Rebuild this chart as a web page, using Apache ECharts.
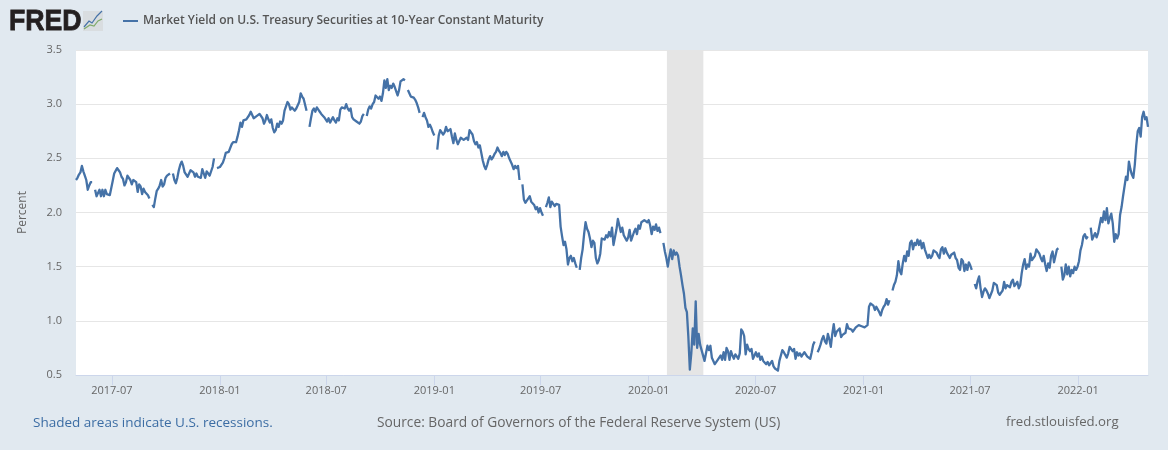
<!DOCTYPE html>
<html><head><meta charset="utf-8">
<style>html,body{margin:0;padding:0;background:#e1e9f0}#c{width:1168px;height:450px}</style>
<script src="https://cdn.jsdelivr.net/npm/echarts@6/dist/echarts.min.js"></script>
</head><body><div id="c"></div>
<script>
const seriesName = 'Market Yield on U.S. Treasury Securities at 10-Year Constant Maturity';
const startDate = '2017-05-01';
const stepDays = 2.5;
const yields = [
2.30,2.32,2.35,2.37,2.43,2.38,2.34,2.30,2.21,2.25,
2.28,2.28,null,2.21,2.15,2.18,2.21,2.15,2.21,2.15,
2.21,2.17,2.18,2.16,2.15,2.29,2.36,2.36,2.41,2.39,
2.37,2.33,2.31,2.25,2.28,2.34,2.33,2.30,2.26,2.30,
2.29,2.28,2.19,2.26,2.24,2.17,2.22,2.19,2.18,2.16,
2.13,null,2.07,2.05,2.13,2.20,2.22,2.25,2.30,2.24,
2.26,2.32,2.34,2.35,2.36,null,2.36,2.30,2.27,2.32,
2.39,2.44,2.47,2.43,2.37,2.36,2.33,2.32,2.39,2.39,
2.37,2.33,2.36,2.33,2.33,2.32,2.40,2.36,2.32,2.38,
2.36,2.34,2.34,2.42,2.50,null,2.41,2.41,2.42,2.43,
2.46,2.50,2.55,2.56,2.56,2.56,2.63,2.65,2.66,2.65,
2.70,2.76,2.83,2.79,2.85,2.84,2.86,2.87,2.90,2.93,
2.90,2.87,2.88,2.89,2.89,2.91,2.90,2.87,2.82,2.85,
2.90,2.86,2.83,2.86,2.78,2.74,2.76,2.82,2.79,2.84,
2.82,2.85,2.94,2.98,3.02,3.00,2.95,2.97,2.96,2.94,
2.96,2.99,3.02,3.10,3.07,3.05,3.06,2.94,null,2.79,
2.87,2.94,2.96,2.93,2.97,2.95,2.93,2.91,2.90,2.88,
2.86,2.84,2.87,2.83,2.82,2.88,2.85,2.83,2.87,2.85,
2.95,2.97,2.98,2.96,3.00,2.96,2.94,2.96,2.88,2.86,
2.87,2.84,2.83,2.82,2.84,2.89,2.91,null,2.89,2.95,
2.98,2.96,3.00,3.02,3.08,3.09,3.05,3.07,3.03,3.10,
3.22,3.15,3.23,3.13,3.17,3.15,3.19,3.16,3.12,3.08,
3.13,3.21,3.20,3.23,3.22,null,3.13,3.10,3.07,3.07,
3.06,3.04,3.01,2.97,2.92,null,2.88,2.92,2.88,2.85,
2.79,2.81,2.78,2.74,2.71,null,2.58,2.71,2.76,2.74,
2.72,2.74,2.79,2.75,2.76,2.77,2.70,2.64,2.73,2.67,
2.63,2.66,2.69,2.70,2.67,2.66,2.69,2.67,2.76,2.74,
2.72,2.66,2.63,2.65,2.60,2.62,2.63,2.48,2.43,2.40,
2.44,2.49,2.52,2.49,2.51,2.54,2.56,2.60,2.57,2.55,
2.52,2.56,2.53,2.56,2.54,2.50,2.47,2.44,2.40,2.43,
2.41,2.43,2.30,null,2.26,2.12,2.09,2.11,2.12,2.15,
2.10,2.09,2.07,2.03,2.05,2.00,2.04,2.00,1.97,null,
2.05,2.09,2.14,2.05,2.10,2.08,2.06,2.08,2.09,2.07,
1.87,1.78,1.70,1.73,1.66,1.52,1.58,1.60,1.55,1.58,
1.53,1.49,null,1.47,1.58,1.66,1.80,1.91,1.85,1.82,
1.76,1.68,1.74,1.72,1.58,1.53,1.56,1.62,1.76,1.76,
1.75,1.79,1.77,1.82,1.78,1.86,1.70,1.77,1.84,1.94,
1.93,1.82,1.86,1.79,1.80,1.74,1.77,1.84,1.74,1.73,
1.82,1.85,1.80,1.88,1.85,1.91,1.92,1.93,1.94,1.91,
1.93,1.88,1.80,1.87,1.84,1.89,1.83,1.86,1.81,null,
1.72,1.64,1.58,1.50,1.59,1.66,1.57,1.65,1.61,1.63,
1.60,1.50,1.42,1.33,1.25,1.12,1.08,0.85,0.55,0.70,
0.93,0.78,1.18,0.75,0.88,0.78,0.73,0.72,0.63,0.70,
0.77,0.73,0.77,0.66,0.63,0.60,0.60,0.64,0.66,0.68,
0.64,0.71,0.64,0.75,0.72,0.64,0.72,0.68,0.65,0.69,
0.70,0.65,0.70,0.92,0.90,0.86,0.69,0.78,0.74,0.72,
0.74,0.65,0.66,0.71,0.67,0.70,0.64,0.67,0.63,0.64,
0.60,0.62,0.59,0.60,0.63,0.58,0.56,0.55,0.54,0.63,
0.68,0.73,0.71,0.71,0.66,0.70,0.76,0.75,0.72,0.74,
0.65,0.71,0.68,0.70,0.67,0.69,0.71,0.70,0.67,0.66,
0.65,0.71,0.78,0.81,null,0.71,0.74,0.78,0.83,0.86,
0.81,0.79,0.88,0.83,0.76,0.88,0.97,0.86,0.90,0.91,
0.93,0.85,0.87,0.88,0.89,0.97,0.93,0.94,0.92,0.90,
0.91,0.94,0.95,0.96,0.96,0.95,0.95,0.94,0.94,0.96,
1.13,1.16,1.16,1.14,1.10,1.13,1.14,1.08,1.05,1.10,
1.13,1.15,1.20,1.15,1.19,null,1.28,1.33,1.36,1.42,
1.55,1.46,1.43,1.53,1.60,1.55,1.64,1.60,1.72,1.74,
1.66,1.72,1.70,1.75,1.70,1.74,1.67,1.72,1.66,1.62,
1.58,1.61,1.58,1.60,1.65,1.66,1.63,1.60,1.58,1.66,
1.68,1.62,1.67,1.63,1.62,1.58,1.61,1.60,1.63,1.58,
1.56,1.49,1.47,1.57,1.55,1.46,1.52,1.47,1.54,1.51,
1.47,null,1.34,1.30,1.37,1.41,1.30,1.22,1.27,1.30,
1.28,1.25,1.21,1.22,1.28,1.35,1.36,1.33,1.26,1.24,
1.26,1.28,1.36,1.30,1.33,1.32,1.31,1.36,1.38,1.32,
1.31,1.36,1.30,1.33,1.44,1.52,1.57,1.48,1.52,1.50,
1.62,1.56,1.55,1.60,1.66,1.67,1.62,1.58,1.55,1.60,
1.52,1.46,1.53,1.49,1.60,1.64,1.54,1.60,1.66,1.67,
null,1.50,1.38,1.42,1.52,1.43,1.50,1.41,1.47,1.44,
1.50,1.47,1.50,1.55,1.65,1.70,1.78,1.80,1.76,1.78,
null,1.86,1.75,1.78,1.81,1.77,1.81,1.80,1.95,1.91,
2.01,1.93,2.04,1.90,1.95,1.99,1.90,1.73,1.80,1.76,
1.80,1.98,2.05,2.15,2.16,2.33,2.30,2.47,2.40,2.35,
2.32,2.44,2.62,2.75,2.78,2.70,2.88,2.93,2.86,2.88,
2.79
];
const tickDates = ['2017-07-01','2018-01-01','2018-07-01','2019-01-01','2019-07-01','2020-01-01','2020-07-01','2021-01-01','2021-07-01','2022-01-01'];
const tickLabels = ['2017-07','2018-01','2018-07','2019-01','2019-07','2020-01','2020-07','2021-01','2021-07','2022-01'];
const recession = ['2020-02-01','2020-04-03'];

const ts = s => Date.parse(s+'T00:00:00Z');
const t0 = ts(startDate);
const points = yields.map((v,i)=>[t0+i*stepDays*864e5, v]);
const tickTs = tickDates.map(ts);
const labelOf = Object.fromEntries(tickTs.map((t,i)=>[t,tickLabels[i]]));
const font = '"Open Sans","Noto Sans",sans-serif';

const chart = echarts.init(document.getElementById('c'),null,{renderer:'canvas'});
chart.setOption({
  backgroundColor:'#e1e9f0',
  animation:false,
  grid:{left:76,right:20,top:50,bottom:75,show:true,backgroundColor:'#fff',borderWidth:0},
  legend:{show:true,left:118,top:10,itemWidth:15,itemHeight:2,icon:'rect',itemGap:6,
    data:[seriesName],
    textStyle:{fontFamily:font,fontSize:12,fontWeight:600,color:'#555'}},
  xAxis:{type:'value',min:t0,max:t0+(yields.length-1)*stepDays*864e5,scale:true,
    axisLine:{show:true,lineStyle:{color:'#ccd6eb',width:1}},
    axisTick:{show:true,length:10,lineStyle:{color:'#ccd6eb'},customValues:tickTs},
    splitLine:{show:false},
    axisLabel:{customValues:tickTs,formatter:v=>labelOf[v]||'',fontFamily:font,fontSize:11,color:'#666',margin:10,hideOverlap:false}},
  yAxis:{type:'value',min:0.5,max:3.5,interval:0.5,name:'Percent',nameLocation:'middle',nameGap:47,
    nameTextStyle:{fontFamily:font,fontSize:12,color:'#666'},
    axisLine:{show:false},axisTick:{show:false},
    splitLine:{lineStyle:{color:'#e6e6e6',width:1}},
    axisLabel:{formatter:v=>v.toFixed(1),fontFamily:font,fontSize:11,color:'#666',margin:14}},
  series:[{name:seriesName,type:'line',data:points,showSymbol:false,symbol:'none',connectNulls:false,
    lineStyle:{color:'#4572a7',width:2.3,join:'round'},itemStyle:{color:'#4572a7'},
    markArea:{silent:true,itemStyle:{color:'#e5e5e5',opacity:1},
      data:[[{xAxis:ts(recession[0])},{xAxis:ts(recession[1])}]]}}],
  graphic:[
    {type:'text',x:9,y:7,scaleX:0.92,style:{text:'FRED',fontFamily:'"Liberation Sans",Arial,sans-serif',fontWeight:900,fontSize:29,fill:'#231f20',stroke:'#231f20',lineWidth:0.8}},
    {type:'rect',shape:{x:83,y:11,width:20,height:20},style:{fill:'#d9dde0'}},
    {type:'polyline',shape:{points:[[84,27],[89,21],[92,23],[97,16],[102,11]]},style:{stroke:'#4572a7',lineWidth:1.2,fill:null}},
    {type:'polyline',shape:{points:[[84,29],[90,25],[94,26],[98,21],[102,19]]},style:{stroke:'#7faa6a',lineWidth:1.2,fill:null}},
    {type:'text',left:33,top:416,style:{text:'Shaded areas indicate U.S. recessions.',fontFamily:font,fontSize:13.5,fill:'#3c6da4'}},
    {type:'text',left:377,top:416,style:{text:'Source: Board of Governors of the Federal Reserve System (US)',fontFamily:font,fontSize:13.75,fill:'#666'}},
    {type:'text',left:1006,top:416,style:{text:'fred.stlouisfed.org',fontFamily:font,fontSize:13.2,fill:'#666'}}
  ]
});
</script></body></html>
